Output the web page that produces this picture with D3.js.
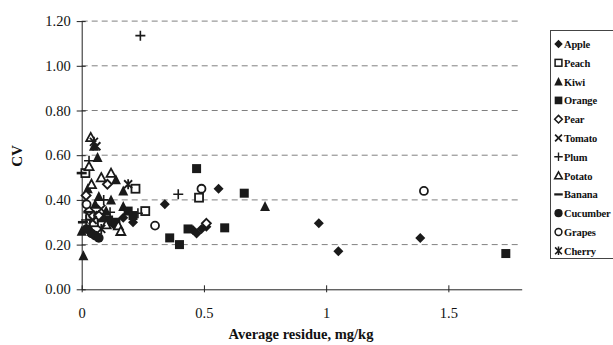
<!DOCTYPE html>
<html>
<head>
<meta charset="utf-8">
<script src="https://cdn.jsdelivr.net/npm/d3@7"></script>
<style>
  html, body { margin: 0; padding: 0; background: #fff; }
  svg { display: block; }
  text { font-family: "Liberation Serif", "DejaVu Serif", serif; fill: #111; }
</style>
</head>
<body>
<svg id="chart" width="613" height="345"></svg>
<script>
// Coefficient of variation against average residue, one series per commodity.
const categories = ["Apple", "Peach", "Kiwi", "Orange", "Pear", "Tomato", "Plum", "Potato", "Banana", "Cucumber", "Grapes", "Cherry"];

const apple    = [[0.34,0.38],[0.56,0.45],[0.97,0.295],[1.05,0.17],[1.385,0.23],[0.47,0.25],[0.49,0.27],[0.51,0.28],[0.21,0.30],[0.17,0.32],[0.06,0.33],[0.13,0.29],[0.455,0.265]];
const peach    = [[0.48,0.41],[0.26,0.35],[0.22,0.45],[0.05,0.30],[0.015,0.52],[0.035,0.33]];
const kiwi     = [[0.75,0.37],[0.065,0.59],[0.007,0.15],[0.0,0.26],[0.04,0.26],[0.14,0.49],[0.025,0.45],[0.17,0.44],[0.07,0.415],[0.055,0.38],[0.17,0.37],[0.12,0.40],[0.10,0.35],[0.05,0.64],[0.02,0.27]];
const orange   = [[0.47,0.54],[0.665,0.43],[0.585,0.275],[1.735,0.16],[0.36,0.23],[0.40,0.20],[0.435,0.27],[0.11,0.31],[0.19,0.35],[0.08,0.32],[0.21,0.33],[0.14,0.30]];
const pear     = [[0.51,0.295],[0.105,0.47],[0.018,0.42],[0.03,0.35],[0.07,0.33]];
const tomato   = [[0.06,0.64],[0.08,0.36],[0.045,0.31]];
const plum     = [[0.24,1.135],[0.395,0.425],[0.03,0.575],[0.116,0.345],[0.23,0.34],[0.018,0.31],[0.09,0.40]];
const potato   = [[0.037,0.68],[0.03,0.55],[0.08,0.50],[0.15,0.285],[0.16,0.26],[0.12,0.52],[0.04,0.47],[0.10,0.29]];
const banana   = [[0.0,0.52],[0.027,0.345],[0.005,0.30]];
const cucumber = [[0.055,0.24],[0.04,0.25],[0.07,0.23],[0.02,0.27]];
const grapes   = [[1.40,0.44],[0.49,0.45],[0.30,0.285],[0.02,0.38]];
const cherry   = [[0.05,0.66],[0.19,0.47],[0.08,0.27]];

const seriesValues = [apple, peach, kiwi, orange, pear, tomato, plum, potato, banana, cucumber, grapes, cherry];

const yTicks = [0, 0.2, 0.4, 0.6, 0.8, 1.0, 1.2];
const xTicks = [0, 0.5, 1, 1.5];
const legendLabels = ["Apple", "Peach", "Kiwi", "Orange", "Pear", "Tomato", "Plum", "Potato", "Banana", "Cucumber", "Grapes", "Cherry"];

const svg = d3.select("#chart");
const plotLeft = 81.7, plotRight = 521.7, plotTop = 21.1, plotBottom = 289.3;

const x = d3.scaleLinear().domain([0, 1.8]).range([plotLeft, plotRight]);
const y = d3.scaleLinear().domain([0, 1.2]).range([plotBottom, plotTop]);

// dashed horizontal gridlines
svg.append("g")
  .selectAll("line")
  .data(yTicks.filter(d => d > 0))
  .join("line")
  .attr("x1", plotLeft).attr("x2", plotRight)
  .attr("y1", d => y(d)).attr("y2", d => y(d))
  .attr("stroke", "#808080").attr("stroke-width", 1)
  .attr("stroke-dasharray", "6,4");

// y axis with ticks crossing the line
const yAxis = svg.append("g")
  .attr("transform", `translate(${plotLeft},0)`)
  .call(d3.axisLeft(y).tickValues(yTicks).tickFormat(d3.format(".2f")).tickSize(4).tickSizeOuter(0));
yAxis.select(".domain").attr("stroke", "#222");
yAxis.selectAll(".tick line").attr("x1", 4).attr("x2", -5).attr("stroke", "#222");
yAxis.selectAll(".tick text").attr("x", -11).attr("font-size", 14.5)
  .attr("font-family", "Liberation Serif, serif").attr("fill", "#111");

// x axis
const xAxis = svg.append("g")
  .attr("transform", `translate(0,${plotBottom})`)
  .call(d3.axisBottom(x).tickValues(xTicks).tickFormat(d3.format("")).tickSize(4).tickSizeOuter(0));
xAxis.select(".domain").attr("stroke", "#222");
xAxis.selectAll(".tick line").attr("y1", -4).attr("y2", 3).attr("stroke", "#222");
xAxis.selectAll(".tick text").attr("y", 18).attr("font-size", 14.5)
  .attr("font-family", "Liberation Serif, serif").attr("fill", "#111");

// axis titles
svg.append("text")
  .attr("x", 301).attr("y", 339)
  .attr("text-anchor", "middle")
  .attr("font-size", 14.5).attr("font-weight", "bold")
  .text("Average residue, mg/kg");

svg.append("text")
  .attr("transform", "translate(22,156) rotate(-90)")
  .attr("text-anchor", "middle")
  .attr("font-size", 15).attr("font-weight", "bold")
  .text("CV");

// marker drawing per series
function drawMarker(g, name) {
  const col = "#1a1a1a";
  switch (name) {
    case "Apple":
      g.append("path").attr("d", "M0,-5L5,0L0,5L-5,0Z").attr("fill", col);
      break;
    case "Peach":
      g.append("rect").attr("x", -4).attr("y", -4).attr("width", 8).attr("height", 8)
        .attr("fill", "#fff").attr("stroke", col).attr("stroke-width", 1.8);
      break;
    case "Kiwi":
      g.append("path").attr("d", "M0,-5.5L5,4.5L-5,4.5Z").attr("fill", col);
      break;
    case "Orange":
      g.append("rect").attr("x", -4.5).attr("y", -4.5).attr("width", 9).attr("height", 9).attr("fill", col);
      break;
    case "Pear":
      g.append("path").attr("d", "M0,-4.5L4.5,0L0,4.5L-4.5,0Z")
        .attr("fill", "#fff").attr("stroke", col).attr("stroke-width", 1.8);
      break;
    case "Tomato":
      g.append("path").attr("d", "M-4,-4L4,4M-4,4L4,-4").attr("stroke", col).attr("stroke-width", 2);
      break;
    case "Plum":
      g.append("path").attr("d", "M-5,0L5,0M0,-5L0,5").attr("stroke", col).attr("stroke-width", 1.6);
      break;
    case "Potato":
      g.append("path").attr("d", "M0,-4.5L4.5,3.8L-4.5,3.8Z")
        .attr("fill", "#fff").attr("stroke", col).attr("stroke-width", 1.8);
      break;
    case "Banana":
      g.append("rect").attr("x", -5).attr("y", -1.3).attr("width", 10).attr("height", 2.6).attr("fill", col);
      break;
    case "Cucumber":
      g.append("circle").attr("r", 4.8).attr("fill", col);
      break;
    case "Grapes":
      g.append("circle").attr("r", 4).attr("fill", "#fff").attr("stroke", col).attr("stroke-width", 1.8);
      break;
    case "Cherry":
      g.append("path").attr("d", "M-4,-4L4,4M-4,4L4,-4M0,-5L0,5").attr("stroke", col).attr("stroke-width", 1.8);
      break;
  }
}

const plot = svg.append("g");
categories.forEach((name, i) => {
  plot.append("g")
    .selectAll("g")
    .data(seriesValues[i])
    .join("g")
    .attr("transform", d => `translate(${x(d[0])},${y(d[1])})`)
    .each(function () { drawMarker(d3.select(this), name); });
});

// legend box, running off the right-hand edge
const legend = svg.append("g");
legend.append("rect")
  .attr("x", 550.5).attr("y", 30.5).attr("width", 80).attr("height", 228)
  .attr("fill", "#fff").attr("stroke", "#444").attr("stroke-width", 1);

legendLabels.forEach((label, i) => {
  const ly = 44 + i * 18.8;
  const g = legend.append("g").attr("transform", `translate(558.5,${ly})`);
  drawMarker(g.append("g").attr("transform", "scale(0.85)"), categories[i]);
  legend.append("text")
    .attr("x", 564).attr("y", ly + 4)
    .attr("font-size", 10.5).attr("font-weight", "bold")
    .attr("letter-spacing", -0.15)
    .text(label);
});
</script>
</body>
</html>
